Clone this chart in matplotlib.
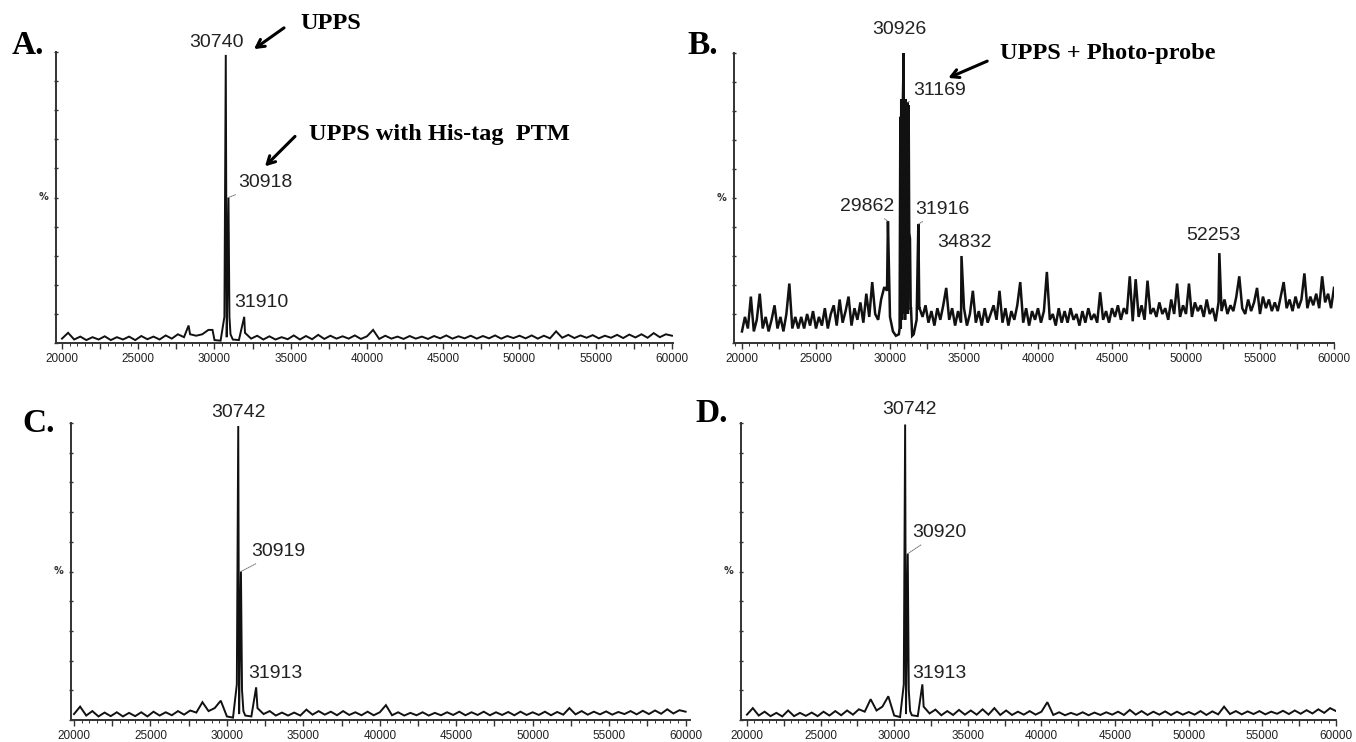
"""Four deconvoluted ESI-MS spectra of UPPS (A-D), redrawn as a 2x2 figure.

Each trace is a low baseline sampled on a regular m/z grid plus the named peaks.
Writes out.png next to where it is run.
"""
import numpy as np
import matplotlib.pyplot as plt
from matplotlib import font_manager
from matplotlib.ticker import MultipleLocator, FuncFormatter

# --- data (% intensity) ----------------------------------------------------
MZ_START = 20000

A_STEP = 400
A_BASE = [1.5, 3.5, 1.2, 2.2, 1.0, 2.0, 1.2, 2.3, 1.0, 2.0,
          1.2, 2.2, 1.0, 2.4, 1.3, 2.2, 1.2, 2.6, 1.5, 3.0,
          2.0, 3.0, 2.5, 3.0, 4.5, 1.0, 0.8, 2.0, 1.2, 1.0,
          3.5, 1.5, 2.5, 1.2, 2.3, 1.2, 2.0, 1.3, 2.6, 1.2,
          2.4, 1.3, 2.8, 1.4, 2.5, 1.5, 2.3, 1.5, 2.6, 1.4,
          2.3, 4.5, 1.4, 2.5, 1.5, 2.2, 1.4, 2.4, 1.5, 2.2,
          1.4, 2.4, 1.6, 2.6, 1.5, 2.3, 1.6, 2.5, 1.5, 2.4,
          1.6, 2.6, 1.5, 2.4, 1.7, 2.5, 1.6, 2.6, 1.5, 2.5,
          1.6, 4.0, 1.8, 2.8, 1.7, 2.6, 1.8, 2.7, 1.6, 2.5,
          1.8, 2.8, 1.7, 2.9, 1.9, 3.0, 1.8, 3.4, 2.0, 3.0,
          2.5]
A_PEAK_MZ = [28300, 29870, 30650, 30740, 30830, 30918, 30980, 31050, 31950]
A_PEAK_PCT = [6.0, 4.5, 9.0, 99.0, 12.0, 50.0, 9.0, 3.0, 9.0]

B_STEP = 200
B_BASE = [4, 9, 5, 16, 4, 8, 17, 5, 9, 4,
          8, 13, 5, 9, 4, 10, 20.5, 5, 9, 5,
          9, 5, 10, 6, 11, 5, 9, 6, 12, 5,
          10, 13, 6, 15, 7, 11, 16, 6, 12, 8,
          14, 7, 17, 9, 21, 10, 8, 15, 19, 18,
          9, 4, 2.5, 3, 82, 84, 82, 12, 3, 8,
          12, 9, 13, 7, 11, 6, 12, 8, 13, 19,
          8, 12, 6, 11, 7, 12, 6, 10, 18, 7,
          11, 6, 12, 7, 10, 13, 8, 18, 7, 12,
          6, 11, 8, 13, 21, 7, 12, 6, 11, 8,
          12, 7, 11, 24.5, 8, 10, 6, 12, 7, 11,
          7, 12, 8, 10, 6, 11, 7, 12, 8, 10,
          7, 17.5, 8, 11, 7, 12, 9, 13, 8, 12,
          10, 23, 7.5, 22, 9, 13, 8, 21.5, 10, 12,
          9, 14, 10, 12, 8, 15, 10, 20.5, 9, 13,
          10, 20.5, 9, 14, 11, 13, 9, 15, 10, 12,
          7.5, 14, 11, 15, 10, 13, 11, 16, 23, 12,
          10, 15, 11, 14, 19, 10, 16, 12, 15, 11,
          14, 11, 16, 21, 12, 15, 11, 16, 12, 15,
          24, 12, 16, 13, 17, 12, 23, 14, 17, 12,
          19]
B_PEAK_MZ = [29700, 29862, 30650, 30700, 30730, 30760, 30810, 30860, 30926,
             30950, 30970, 31020, 31060, 31100, 31120, 31169, 31210, 31260,
             31300, 31350, 31420, 31500, 31916, 31980, 34832, 52253]
B_PEAK_PCT = [19, 42, 5, 78, 5, 84, 8, 80, 100,
              10, 82, 8, 84, 10, 80, 83, 10, 82,
              38, 36, 12, 2.5, 41, 12, 30, 31]

C_STEP = 400
C_BASE = [2.0, 4.5, 1.5, 3.0, 1.2, 2.5, 1.3, 2.6, 1.2, 2.4,
          1.3, 2.6, 1.2, 2.8, 1.5, 2.6, 1.6, 3.0, 1.8, 3.2,
          2.5, 6.0, 3.0, 4.0, 6.5, 1.2, 0.8, 2.0, 1.5, 1.2,
          4.0, 2.0, 3.0, 1.5, 2.5, 1.5, 2.5, 1.5, 3.5, 1.8,
          3.0, 1.8, 2.8, 1.6, 3.0, 1.7, 2.6, 1.6, 2.8, 1.6,
          2.6, 5.0, 1.6, 2.6, 1.5, 2.4, 1.6, 2.6, 1.5, 2.4,
          1.6, 2.6, 1.7, 2.8, 1.6, 2.6, 1.7, 2.8, 1.6, 2.6,
          1.7, 2.7, 1.6, 2.8, 1.7, 2.6, 1.7, 2.8, 1.6, 2.7,
          1.8, 4.0, 1.9, 3.0, 1.8, 2.8, 1.9, 2.9, 1.8, 2.7,
          2.0, 3.0, 1.9, 3.1, 2.0, 3.2, 2.1, 3.6, 2.2, 3.3,
          2.8]
C_PEAK_MZ = [30650, 30742, 30840, 30919, 30990, 31080, 31913]
C_PEAK_PCT = [12.0, 99.0, 19.0, 50.0, 10.0, 3.0, 11.0]

D_STEP = 400
D_BASE = [1.8, 4.0, 1.5, 2.8, 1.3, 2.4, 1.2, 3.2, 1.3, 2.4,
          1.4, 2.5, 1.3, 2.8, 1.5, 3.0, 1.6, 3.2, 1.8, 3.6,
          2.8, 7.0, 3.2, 4.5, 8.0, 1.5, 1.0, 2.0, 1.6, 1.3,
          4.5, 2.2, 3.5, 1.6, 3.0, 1.7, 3.4, 1.8, 3.2, 1.8,
          3.6, 1.8, 4.0, 1.7, 3.2, 1.7, 2.8, 1.8, 3.0, 1.8,
          2.8, 6.0, 1.7, 2.6, 1.6, 2.4, 1.7, 2.6, 1.6, 2.5,
          1.7, 2.6, 1.8, 2.8, 1.7, 3.4, 1.8, 3.0, 1.7, 2.8,
          1.8, 2.9, 1.7, 2.8, 1.8, 2.7, 1.8, 3.0, 1.7, 2.9,
          1.9, 4.5, 2.0, 3.0, 1.9, 2.9, 2.0, 3.0, 1.9, 2.8,
          2.1, 3.1, 2.0, 3.2, 2.1, 3.3, 2.2, 3.6, 2.4, 4.0,
          3.0]
D_PEAK_MZ = [30650, 30742, 30840, 30920, 30990, 31080, 31913]
D_PEAK_PCT = [12.0, 99.5, 19.0, 56.0, 10.0, 3.0, 12.0]

W, H = 1356, 742
installed = {f.name for f in font_manager.fontManager.ttflist}
TICK_FONT = "Liberation Sans Narrow" if "Liberation Sans Narrow" in installed else "Liberation Sans"
NUM_FONT = "Liberation Sans"
SERIF = "Liberation Serif"


def trace(base, step, peak_mz, peak_pct):
    mz = MZ_START + step * np.arange(len(base))
    x = np.concatenate([mz, peak_mz])
    y = np.concatenate([base, peak_pct])
    order = np.argsort(x, kind="stable")
    return x[order], y[order]


def box(left, top, right, bottom):
    # pixel box of the reference -> figure fraction
    return [left / W, 1 - bottom / H, (right - left) / W, (bottom - top) / H]


def style(ax, xlim):
    ax.set_xlim(*xlim)
    ax.set_ylim(0, 100)
    for s in ("top", "right"):
        ax.spines[s].set_visible(False)
    for s in ("left", "bottom"):
        ax.spines[s].set_linewidth(1.4)
        ax.spines[s].set_color("#333")
    ax.xaxis.set_major_locator(MultipleLocator(2500))
    ax.xaxis.set_minor_locator(MultipleLocator(500))
    ax.xaxis.set_major_formatter(
        FuncFormatter(lambda v, _: f"{v:.0f}" if v % 5000 == 0 else ""))
    ax.yaxis.set_major_locator(MultipleLocator(10))
    ax.yaxis.set_major_formatter(FuncFormatter(lambda v, _: ""))
    ax.tick_params(axis="x", which="major", length=4, width=1.0, pad=3,
                   labelsize=8.5, color="#333")
    ax.tick_params(axis="x", which="minor", length=2, width=0.7, color="#333")
    ax.tick_params(axis="y", which="major", length=2.5, width=1.0,
                   direction="inout", color="#333")
    for lab in ax.get_xticklabels():
        lab.set_fontfamily(TICK_FONT)
        lab.set_color("#222")
    ax.text(-0.021, 0.5, "%", transform=ax.transAxes, fontsize=7,
            fontweight="bold", ha="center", va="center", color="#333")


def peak_label(ax, text, peak, pos, ha="center", leader=False):
    props = None
    if leader:
        props = dict(arrowstyle="-", color="0.45", lw=0.7, ls=(0, (1, 1)),
                     shrinkA=1, shrinkB=0)
    ax.annotate(text, xy=peak, xytext=pos, ha=ha, va="center",
                fontsize=14, fontfamily=NUM_FONT, color="#222",
                arrowprops=props, annotation_clip=False)


def note(ax, text, pos, tail, head):
    ax.text(*pos, text, fontsize=17.5, fontfamily=SERIF, fontweight="bold",
            ha="left", va="center", clip_on=False)
    ax.annotate("", xy=head, xytext=tail, annotation_clip=False,
                arrowprops=dict(arrowstyle="->,head_length=0.55,head_width=0.3",
                                lw=2.2, color="black", shrinkA=0, shrinkB=0))


fig = plt.figure(figsize=(W / 100, H / 100), dpi=100)

axA = fig.add_axes(box(56, 52, 673, 343))
axB = fig.add_axes(box(734, 53, 1334, 343))
axC = fig.add_axes(box(71, 423, 690, 720))
axD = fig.add_axes(box(741, 423, 1336, 720))

panels = [
    (axA, (19607, 60066), 1.4, trace(A_BASE, A_STEP, A_PEAK_MZ, A_PEAK_PCT)),
    (axB, (19461, 60000), 1.8, trace(B_BASE, B_STEP, B_PEAK_MZ, B_PEAK_PCT)),
    (axC, (19804, 60288), 1.4, trace(C_BASE, C_STEP, C_PEAK_MZ, C_PEAK_PCT)),
    (axD, (19597, 60000), 1.4, trace(D_BASE, D_STEP, D_PEAK_MZ, D_PEAK_PCT)),
]
for ax, xlim, lw, (x, y) in panels:
    style(ax, xlim)
    ax.plot(x, y, color="#111", lw=lw, solid_joinstyle="miter")

# A
peak_label(axA, "30740", (30740, 99), (30100, 103.4))
peak_label(axA, "30918", (30918, 50), (31540, 55), ha="left", leader=True)
peak_label(axA, "31910", (31950, 9), (31280, 14), ha="left")
note(axA, "UPPS", (35610, 109.8), (34560, 108.3), (32590, 101))
note(axA, "UPPS with His-tag  PTM", (36200, 71.7), (35280, 71), (33310, 60.7))

# B
peak_label(axB, "30926", (30926, 100), (30640, 108))
peak_label(axB, "31169", (31169, 83), (31580, 87), ha="left", leader=True)
peak_label(axB, "29862", (29862, 42), (30300, 47), ha="right", leader=True)
peak_label(axB, "31916", (31916, 41), (31720, 46), ha="left", leader=True)
peak_label(axB, "34832", (34832, 30), (35020, 34.5))
peak_label(axB, "52253", (52253, 31), (51850, 37))
note(axB, "UPPS + Photo-probe", (37440, 100), (36570, 97.2), (33940, 91.4))

# C
peak_label(axC, "30742", (30742, 99), (30730, 103.7))
peak_label(axC, "30919", (30919, 50), (31610, 56.6), ha="left", leader=True)
peak_label(axC, "31913", (31913, 11), (31380, 15.5), ha="left")

# D
peak_label(axD, "30742", (30742, 99.5), (31070, 104.5))
peak_label(axD, "30920", (30920, 56), (31200, 63), ha="left", leader=True)
peak_label(axD, "31913", (31913, 12), (31200, 15.5), ha="left")

for letter, (px, py) in {"A.": (12, 46), "B.": (687, 45),
                         "C.": (22, 423), "D.": (695, 414)}.items():
    fig.text(px / W, 1 - py / H, letter, fontsize=24, fontfamily=SERIF,
             fontweight="bold", ha="left", va="center")

fig.savefig("out.png", dpi=100)
